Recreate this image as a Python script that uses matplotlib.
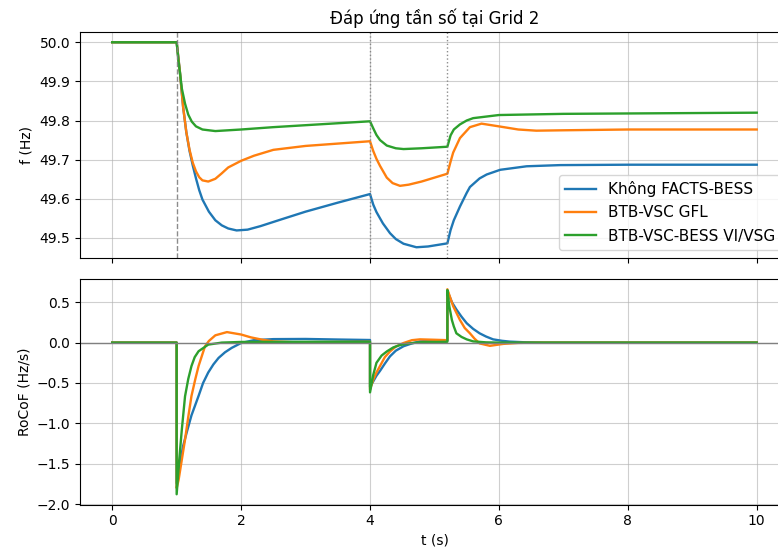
import matplotlib
matplotlib.use("Agg")
import matplotlib.pyplot as plt

# ---------------- data ----------------
labels = ["Không FACTS-BESS", "BTB-VSC GFL", "BTB-VSC-BESS VI/VSG"]
colors = ["#1f77b4", "#ff7f0e", "#2ca02c"]

# Frequency (Hz)
t_f_blue = [0, 1.0, 1.05, 1.1, 1.15, 1.2, 1.25, 1.3, 1.35, 1.4, 1.5, 1.6, 1.7, 1.8, 1.93,
            2.1, 2.3, 2.6, 3.0, 3.5, 4.0,
            4.05, 4.1, 4.155, 4.2, 4.31, 4.4, 4.52, 4.72, 4.9, 5.2,
            5.25, 5.3, 5.395, 5.5, 5.55, 5.7, 5.81, 6.02, 6.43, 6.95, 8.0, 10.0]
f_blue = [50.0, 50.0, 49.925, 49.835, 49.77, 49.722, 49.685, 49.652, 49.622, 49.598, 49.567, 49.545,
          49.532, 49.524, 49.519, 49.521, 49.530, 49.546, 49.567, 49.590, 49.612,
          49.585, 49.566, 49.550, 49.537, 49.512, 49.497, 49.485, 49.476, 49.478, 49.486,
          49.52, 49.545, 49.58, 49.615, 49.630, 49.652, 49.662, 49.674, 49.683, 49.686, 49.687, 49.687]

t_f_orange = [0, 1.0, 1.05, 1.1, 1.15, 1.2, 1.25, 1.3, 1.35, 1.4, 1.49, 1.6, 1.7, 1.8, 2.0,
              2.2, 2.5, 3.0, 3.5, 4.0,
              4.05, 4.1, 4.155, 4.26, 4.35, 4.465, 4.6, 4.8, 5.0, 5.2,
              5.25, 5.29, 5.395, 5.55, 5.73, 6.0, 6.3, 6.58, 7.0, 8.0, 10.0]
f_orange = [50.0, 50.0, 49.925, 49.835, 49.77, 49.725, 49.692, 49.670, 49.655, 49.647, 49.644,
            49.651, 49.665, 49.680, 49.697, 49.710, 49.725, 49.735, 49.741, 49.747,
            49.722, 49.702, 49.684, 49.654, 49.640, 49.633, 49.636, 49.644, 49.654, 49.664,
            49.695, 49.718, 49.755, 49.783, 49.792, 49.785, 49.777, 49.774, 49.775, 49.777, 49.777]

t_f_green = [0, 1.0, 1.03, 1.054, 1.08, 1.13, 1.18, 1.235, 1.3, 1.4, 1.6, 2.0, 2.5, 3.0, 3.5, 4.0,
             4.05, 4.1, 4.155, 4.26, 4.4, 4.52, 4.8, 5.2,
             5.25, 5.3, 5.395, 5.5, 5.6, 6.0, 7.0, 8.0, 10.0]
f_green = [50.0, 50.0, 49.95, 49.918, 49.882, 49.843, 49.815, 49.797, 49.785, 49.777, 49.773,
           49.777, 49.783, 49.788, 49.793, 49.798,
           49.780, 49.763, 49.750, 49.736, 49.729, 49.727, 49.729, 49.733,
           49.762, 49.777, 49.790, 49.800, 49.806, 49.814, 49.817, 49.818, 49.820]

# RoCoF (Hz/s)
t_r_blue = [0, 1.0, 1.0, 1.05, 1.1, 1.16, 1.23, 1.34, 1.41, 1.49, 1.57, 1.65, 1.75, 1.855, 2.0,
            2.2, 2.5, 3.0, 3.5, 4.0,
            4.0, 4.05, 4.1, 4.155, 4.23, 4.31, 4.4, 4.52, 4.65, 4.775, 5.0, 5.2,
            5.2, 5.27, 5.34, 5.42, 5.5, 5.6, 5.7, 5.8, 5.91, 6.05, 6.17, 6.4, 6.7, 10.0]
r_blue = [0, 0, -1.74, -1.5, -1.28, -1.1, -0.9, -0.66, -0.5, -0.37, -0.27, -0.19, -0.12, -0.065,
          -0.005, 0.03, 0.043, 0.045, 0.038, 0.032,
          -0.55, -0.48, -0.41, -0.35, -0.26, -0.17, -0.10, -0.045, -0.01, 0.015, 0.025, 0.025,
          0.64, 0.50, 0.41, 0.32, 0.24, 0.17, 0.115, 0.075, 0.04, 0.022, 0.012, 0.004, 0.0, 0.0]

t_r_orange = [0, 1.0, 1.0, 1.03, 1.08, 1.13, 1.18, 1.23, 1.29, 1.34, 1.44, 1.5, 1.6, 1.78, 2.0,
              2.15, 2.32, 2.5, 2.8, 3.0, 4.0,
              4.0, 4.05, 4.1, 4.155, 4.23, 4.31, 4.4, 4.52, 4.65, 4.775, 5.0, 5.2,
              5.2, 5.29, 5.395, 5.47, 5.55, 5.62, 5.7, 5.86, 6.07, 6.3, 6.6, 10.0]
r_orange = [0, 0, -1.80, -1.70, -1.45, -1.2, -0.92, -0.66, -0.45, -0.29, -0.045, 0.02, 0.09, 0.13,
            0.10, 0.065, 0.037, 0.015, 0.005, 0.005, 0.01,
            -0.58, -0.46, -0.37, -0.29, -0.18, -0.11, -0.05, -0.005, 0.03, 0.04, 0.035, 0.03,
            0.66, 0.45, 0.28, 0.18, 0.115, 0.05, -0.01, -0.04, -0.016, -0.004, 0.0, 0.0]

t_r_green = [0, 1.0, 1.0, 1.04, 1.08, 1.13, 1.18, 1.23, 1.28, 1.34, 1.49, 1.7, 2.0, 3.0, 4.0,
             4.0, 4.05, 4.1, 4.18, 4.26, 4.36, 4.465, 4.6, 4.8, 5.2,
             5.2, 5.23, 5.27, 5.3, 5.34, 5.42, 5.5, 5.6, 5.8, 6.0, 10.0]
r_green = [0, 0, -1.877, -1.45, -1.077, -0.665, -0.45, -0.29, -0.18, -0.107, -0.025, 0.0, 0.008,
           0.01, 0.01,
           -0.616, -0.40, -0.25, -0.16, -0.11, -0.06, -0.03, -0.01, 0.005, 0.01,
           0.65, 0.45, 0.28, 0.20, 0.115, 0.07, 0.04, 0.015, 0.003, 0.0, 0.0]

event_times = [1.0, 4.0, 5.2]
event_styles = ["--", ":", ":"]

title = "Đáp ứng tần số tại Grid 2"

# ---------------- plot ----------------
fig = plt.figure(figsize=(7.78, 5.5), dpi=100)
ax1 = fig.add_axes([0.1028, 0.5318, 0.9113, 0.41])
ax2 = fig.add_axes([0.1028, 0.0827, 0.9113, 0.41], sharex=ax1)

lw = 1.7
f_series = [(t_f_blue, f_blue), (t_f_orange, f_orange), (t_f_green, f_green)]
r_series = [(t_r_blue, r_blue), (t_r_orange, r_orange), (t_r_green, r_green)]

for (t, f), lab, c in zip(f_series, labels, colors):
    ax1.plot(t, f, color=c, lw=lw, label=lab)
for tv, ls in zip(event_times, event_styles):
    ax1.axvline(tv, color="gray", ls=ls, lw=1.0, alpha=0.9)

for (t, r), c in zip(r_series, colors):
    ax2.plot(t, r, color=c, lw=lw)
ax2.axhline(0, color="gray", lw=1.0)

ax1.set_title(title, fontsize=12)
ax1.set_ylabel("f (Hz)")
ax2.set_ylabel("RoCoF (Hz/s)")
ax2.set_xlabel("t (s)")

for ax in (ax1, ax2):
    ax.grid(True, alpha=0.6)
ax1.tick_params(labelbottom=False)
ax1.legend(loc="lower right", fontsize=11, labelspacing=0.55)

fig.savefig("out.png", dpi=100)
